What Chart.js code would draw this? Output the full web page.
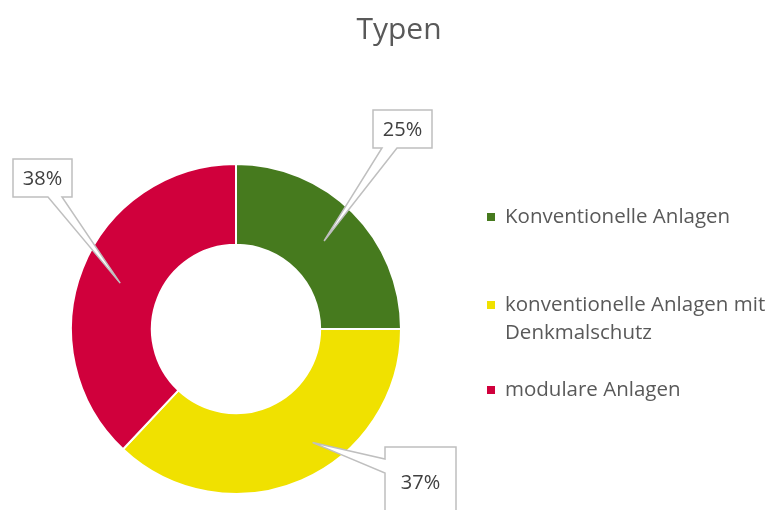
<!DOCTYPE html>
<html>
<head>
<meta charset="utf-8">
<script src="https://cdn.jsdelivr.net/npm/chart.js@4"></script>
<style>
  html, body { margin: 0; padding: 0; background: #fff; }
  #wrap { width: 780px; height: 510px; }
</style>
</head>
<body>
<div id="wrap"><canvas id="typenChart"></canvas></div>
<script>
// Data
const categories = ['Konventionelle Anlagen', 'konventionelle Anlagen mit Denkmalschutz', 'modulare Anlagen'];
const legendLines = [['Konventionelle Anlagen'], ['konventionelle Anlagen mit', 'Denkmalschutz'], ['modulare Anlagen']];
const shares = [25, 37, 38];
const sliceColors = ['#467A1E', '#F0E100', '#D0003C'];

const FONT = "'Open Sans', 'Noto Sans', sans-serif";
const TEXT = '#595959';

// callout boxes (x, y, w, h) and which side the pointer leaves from
const callouts = [
    { box: [373, 110, 59, 38], side: 'bottom', base: [9, 24], tipAngle: null, tipR: null },
    { box: [385, 447, 71, 70], side: 'left', base: [12, 26], tipAngle: 146, tipR: 137 },
    { box: [13, 159, 59, 38], side: 'bottom', base: [35, 49], tipAngle: null, tipR: null }
];

const overlay = {
    id: 'overlay',
    afterDraw(chart) {
        const ctx = chart.ctx;
        const meta = chart.getDatasetMeta(0);
        ctx.save();

        // title
        ctx.fillStyle = TEXT;
        ctx.font = '30px ' + FONT;
        ctx.textAlign = 'center';
        ctx.textBaseline = 'middle';
        ctx.fillText('Typen', 399, 30);

        // callouts
        meta.data.forEach((arc, i) => {
            const c = callouts[i];
            const p = arc.getProps(['x', 'y', 'startAngle', 'endAngle', 'innerRadius', 'outerRadius'], true);
            let ang = (p.startAngle + p.endAngle) / 2;
            let r = (p.innerRadius + p.outerRadius) / 2;
            if (c.tipAngle !== null) {
                ang = (c.tipAngle - 90) * Math.PI / 180;
                r = c.tipR;
            }
            const tx = p.x + Math.cos(ang) * r;
            const ty = p.y + Math.sin(ang) * r;
            const [bx, by, bw, bh] = c.box;
            ctx.beginPath();
            if (c.side === 'bottom') {
                ctx.moveTo(bx, by);
                ctx.lineTo(bx + bw, by);
                ctx.lineTo(bx + bw, by + bh);
                ctx.lineTo(bx + c.base[1], by + bh);
                ctx.lineTo(tx, ty);
                ctx.lineTo(bx + c.base[0], by + bh);
                ctx.lineTo(bx, by + bh);
            } else {
                ctx.moveTo(bx, by);
                ctx.lineTo(bx + bw, by);
                ctx.lineTo(bx + bw, by + bh);
                ctx.lineTo(bx, by + bh);
                ctx.lineTo(bx, by + c.base[1]);
                ctx.lineTo(tx, ty);
                ctx.lineTo(bx, by + c.base[0]);
            }
            ctx.closePath();
            ctx.fillStyle = '#ffffff';
            ctx.fill();
            ctx.strokeStyle = '#BFBFBF';
            ctx.lineWidth = 1.5;
            ctx.stroke();

            ctx.fillStyle = '#404040';
            ctx.font = '20px ' + FONT;
            ctx.textAlign = 'center';
            ctx.textBaseline = 'middle';
            const ly = c.side === 'left' ? by + 36 : by + bh / 2 + 1;
            ctx.fillText(shares[i] + '%', bx + bw / 2, ly);
        });

        // legend
        const legendY = [217, 305, 390];
        ctx.font = '20.5px ' + FONT;
        ctx.textAlign = 'left';
        ctx.textBaseline = 'middle';
        legendLines.forEach((lines, i) => {
            ctx.fillStyle = sliceColors[i];
            ctx.fillRect(487, legendY[i] - 4, 8, 8);
            ctx.fillStyle = TEXT;
            lines.forEach((line, j) => {
                ctx.fillText(line, 505, legendY[i] + j * 28);
            });
        });
        ctx.restore();
    }
};

new Chart(document.getElementById('typenChart'), {
    type: 'doughnut',
    data: {
        labels: categories,
        datasets: [{
            data: shares,
            backgroundColor: sliceColors,
            borderColor: '#ffffff',
            borderWidth: 2
        }]
    },
    options: {
        responsive: true,
        maintainAspectRatio: false,
        animation: false,
        cutout: '51%',
        layout: { padding: { left: 70, right: 378, top: 163, bottom: 15 } },
        plugins: {
            legend: { display: false },
            title: { display: false },
            tooltip: { enabled: false }
        }
    },
    plugins: [overlay]
});
</script>
</body>
</html>
